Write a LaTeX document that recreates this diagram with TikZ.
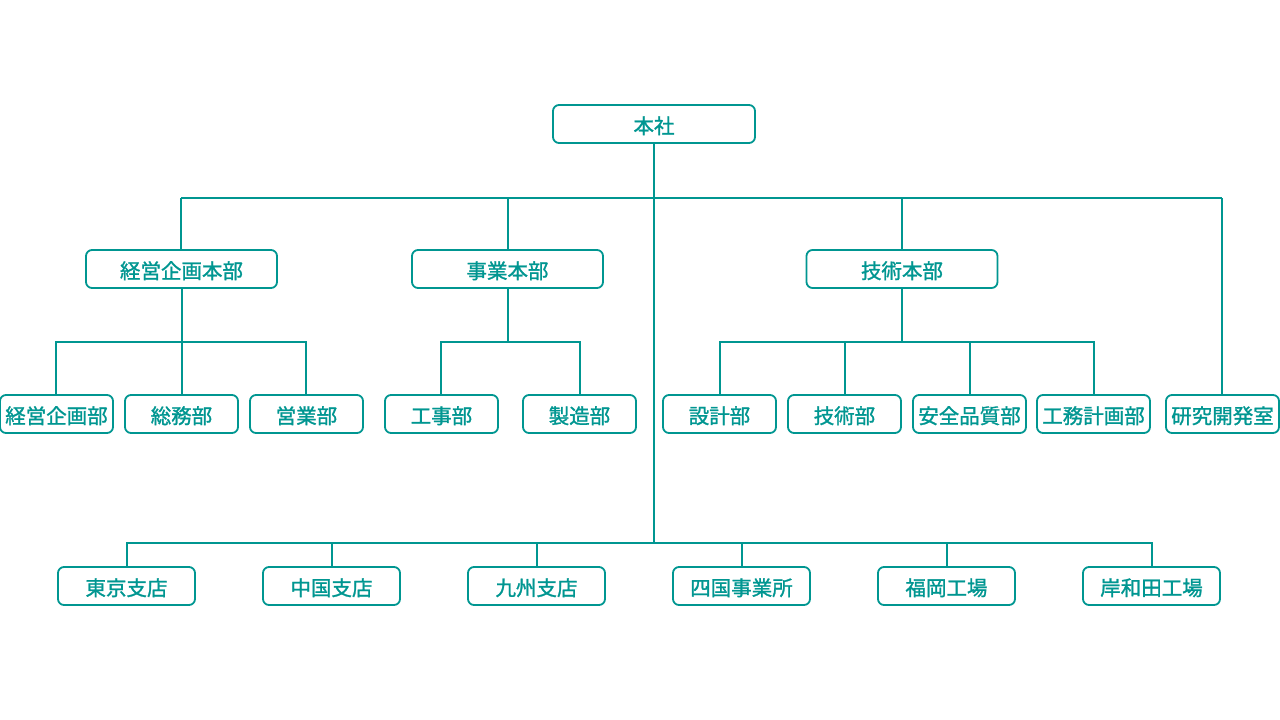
\documentclass[tikz,border=0pt]{standalone}
\usepackage{fontspec}
\setmainfont{Noto Sans CJK JP}[FakeBold=1.3]
\definecolor{teal1}{RGB}{0,150,145}
\begin{document}
\begin{tikzpicture}[x=1pt,y=-1pt,
  box/.style={draw=teal1, line width=1.8pt, rounded corners=6pt, fill=white,
    minimum height=38pt, inner sep=0pt, text height=20pt, text depth=1pt,
    text=teal1, font=\fontsize{20.5}{21}\selectfont},
  topbox/.style={box, minimum width=202pt},
  midbox/.style={box, minimum width=191pt},
  depbox/.style={box, minimum width=113pt},
  brbox/.style={box, minimum width=137pt},
  conn/.style={draw=teal1, line width=2pt}]
\useasboundingbox (0,0) rectangle (1280,720);
\coordinate (b0) at (654,198);
\coordinate (bL) at (181,198);
\coordinate (bR) at (1222,198);
\coordinate (c0) at (654,543);

\node[topbox] (hq) at (654,124) {本社};
\node[midbox] (keiei) at (181.5,269) {経営企画本部};
\node[midbox] (jigyo) at (507.5,269) {事業本部};
\node[midbox] (gijutsu) at (902,269) {技術本部};

\node[depbox] (d1) at (56.5,414) {経営企画部};
\node[depbox] (d2) at (181.5,414) {総務部};
\node[depbox] (d3) at (306.5,414) {営業部};
\node[depbox] (d4) at (441.5,414) {工事部};
\node[depbox] (d5) at (579.5,414) {製造部};
\node[depbox] (d6) at (719.5,414) {設計部};
\node[depbox] (d7) at (844.5,414) {技術部};
\node[depbox] (d8) at (969.5,414) {安全品質部};
\node[depbox] (d9) at (1093.5,414) {工務計画部};
\node[depbox] (d10) at (1222.5,414) {研究開発室};

\node[brbox] (e1) at (126.5,586) {東京支店};
\node[brbox] (e2) at (331.5,586) {中国支店};
\node[brbox] (e3) at (536.5,586) {九州支店};
\node[brbox] (e4) at (741.5,586) {四国事業所};
\node[brbox] (e5) at (946.5,586) {福岡工場};
\node[brbox] (e6) at (1151.5,586) {岸和田工場};

\draw[conn] (hq.south) -- (c0);
\draw[conn] (bL) -- (bR);
\draw[conn] (keiei.north -| bL) -- (bL);
\draw[conn] (d10.north -| bR) -- (bR);
\draw[conn] (jigyo.north -| 508,0) -- (508,198);
\draw[conn] (gijutsu.north) -- (gijutsu.north |- b0);
% sub-buses
\coordinate (s1) at (56,342);
\coordinate (s3) at (306,342);
\draw[conn] (d1.north -| s1) -- (s1) -- (s3) -- (d3.north -| s3);
\draw[conn] (keiei.south -| 182,0) -- (182,342) -- (d2.north -| 182,0);
\coordinate (s4) at (441,342);
\coordinate (s5) at (580,342);
\draw[conn] (d4.north -| s4) -- (s4) -- (s5) -- (d5.north -| s5);
\draw[conn] (jigyo.south -| 508,0) -- (508,342);
\coordinate (s6) at (720,342);
\coordinate (s9) at (1094,342);
\draw[conn] (d6.north -| s6) -- (s6) -- (s9) -- (d9.north -| s9);
\draw[conn] (gijutsu.south) -- (gijutsu.south |- s6);
\draw[conn] (d7.north -| 845,0) -- (845,342);
\draw[conn] (d8.north -| 970,0) -- (970,342);
% branch bus
\coordinate (t1) at (127,543);
\coordinate (t6) at (1152,543);
\draw[conn] (e1.north -| t1) -- (t1) -- (t6) -- (e6.north -| t6);
\draw[conn] (e2.north -| 332,0) -- (332,543);
\draw[conn] (e3.north -| 537,0) -- (537,543);
\draw[conn] (e4.north -| 742,0) -- (742,543);
\draw[conn] (e5.north -| 947,0) -- (947,543);
\end{tikzpicture}
\end{document}
